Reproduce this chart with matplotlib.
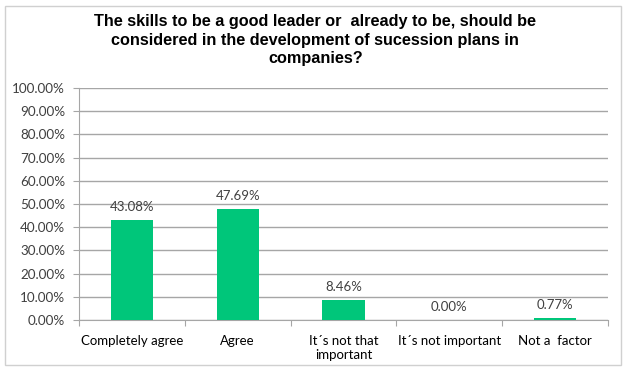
import numpy as np
import matplotlib.pyplot as plt
from matplotlib.patches import Rectangle
from matplotlib.ticker import MultipleLocator, FuncFormatter

categories = ["Completely agree", "Agree", "It\u00b4s not that\nimportant",
              "It\u00b4s not important", "Not a  factor"]
values = [43.08, 47.69, 8.46, 0.00, 0.77]
title = ("The skills to be a good leader or  already to be, should be\n"
         "considered in the development of sucession plans in\n"
         "companies?")

bar_color = "#00c67a"
grid_color = "#a6a6a6"
text_color = "#404040"

fig = plt.figure(figsize=(6.27, 3.74), dpi=100)
fig.patches.append(Rectangle((0.008, 0.025), 0.983, 0.96, transform=fig.transFigure,
                             fill=False, edgecolor="#d0d0d0", linewidth=1.0))

ax = fig.add_axes([79 / 627, 1 - 320 / 374, (608 - 79) / 627, (320 - 88) / 374])
x = np.arange(len(categories))
ax.bar(x, values, width=0.4, color=bar_color, zorder=3)
for xi, v in zip(x, values):
    ax.text(xi, v + 3, f"{v:.2f}%", ha="center", va="bottom",
            fontsize=9.5, family="Lato", color=text_color)

ax.set_xlim(-0.5, len(categories) - 0.5)
ax.set_ylim(0, 100)
ax.yaxis.set_major_locator(MultipleLocator(10))
ax.yaxis.set_major_formatter(FuncFormatter(lambda v, _: f"{v:.2f}%"))
ax.grid(axis="y", color=grid_color, linewidth=1.0, zorder=0)

for side in ["top", "right"]:
    ax.spines[side].set_visible(False)
ax.spines["left"].set_color(grid_color)
ax.spines["bottom"].set_color(grid_color)

# category boundaries get the tick marks, labels sit in between
ax.set_xticks(np.arange(len(categories) + 1) - 0.5, minor=False)
ax.set_xticklabels([])
ax.set_xticks(x, minor=True)
ax.set_xticklabels(categories, minor=True, fontsize=9.5, family="Lato", color="black")
ax.tick_params(axis="x", which="major", length=4, color=grid_color)
ax.tick_params(axis="x", which="minor", length=0, pad=11)
ax.tick_params(axis="y", length=4, color=grid_color, labelsize=9.7,
               labelcolor=text_color, pad=6)
for lbl in ax.get_yticklabels():
    lbl.set_family("Lato")

fig.text(0.503, 0.962, title, ha="center", va="top", fontsize=11.7, fontweight="bold",
         family="Liberation Sans", linespacing=1.3)

fig.savefig("out.png", dpi=100)
